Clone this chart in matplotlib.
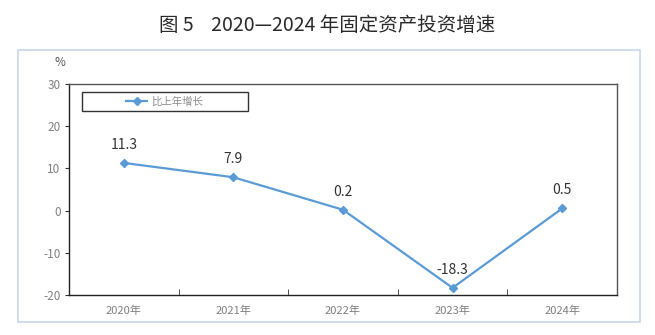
import numpy as np
import matplotlib
matplotlib.use("Agg")
import matplotlib.pyplot as plt
from matplotlib.patches import Rectangle

plt.rcParams['font.family'] = ['Noto Sans CJK SC', 'DejaVu Sans']
plt.rcParams['axes.unicode_minus'] = False

# data
years = ["2020年", "2021年", "2022年", "2023年", "2024年"]
growth = [11.3, 7.9, 0.2, -18.3, 0.5]
series_name = "比上年增长"
title = "图 5    2020—2024 年固定资产投资增速"

LINE_COLOR = "#5b9bd5"
TICK_COLOR = "#7f7f7f"

fig = plt.figure(figsize=(6.55, 3.35), dpi=100)

# outer light-blue frame
fig.patches.append(Rectangle((0.0275, 0.039), 0.949, 0.812, transform=fig.transFigure,
                             fill=False, edgecolor="#c8d7ec", linewidth=1.2))
fig.text(0.5, 0.925, title, ha="center", va="center", fontsize=14,
         color="#2a2a2a", fontweight="medium")

ax = fig.add_axes([0.1053, 0.1194, 0.8366, 0.6299])
x = np.arange(len(years))
ax.plot(x, growth, color=LINE_COLOR, linewidth=1.6, marker="D", markersize=4.5,
        label=series_name)

for xi, v in zip(x, growth):
    ax.annotate(f"{v:.1f}", (xi, v), xytext=(0, 8), textcoords="offset points",
                ha="center", va="bottom", fontsize=10, color="#333333")

ax.set_xlim(-0.5, len(years) - 0.5)
ax.set_ylim(-20, 30)
ax.set_yticks(np.arange(-20, 31, 10))
ax.set_xticks(x)
ax.set_xticklabels(years)
ax.set_xticks(np.arange(0.5, len(years) - 0.5, 1), minor=True)
ax.tick_params(axis="x", which="major", length=0, pad=8, labelsize=8, labelcolor=TICK_COLOR)
ax.tick_params(axis="x", which="minor", direction="in", length=4, color="#333333")
ax.tick_params(axis="y", length=3, labelsize=8.5, labelcolor=TICK_COLOR, color="#333333", pad=3)

for s in ["left", "bottom"]:
    ax.spines[s].set_color("#222222")
    ax.spines[s].set_linewidth(1.0)
for s in ["top", "right"]:
    ax.spines[s].set_color("#555555")
    ax.spines[s].set_linewidth(1.0)

ax.text(-0.016, 1.104, "%", transform=ax.transAxes, ha="center", va="center",
        fontsize=8.5, color="#555555")

# legend box
ax.add_patch(Rectangle((0.0237, 0.872), 0.303, 0.09, transform=ax.transAxes,
                       fill=False, edgecolor="#333333", linewidth=1.0, zorder=5))
leg = ax.legend(loc="center", bbox_to_anchor=(0.175, 0.917), frameon=False,
                fontsize=7.5, handlelength=2.0, handletextpad=0.4, borderpad=0)
for t in leg.get_texts():
    t.set_color("#8c8c8c")

fig.savefig("out.png", dpi=100)
